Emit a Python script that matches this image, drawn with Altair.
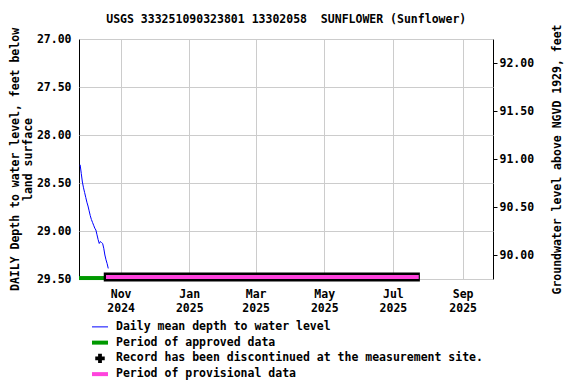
import altair as alt
import pandas as pd

# ---- data ----
dates = ["2024-09-26", "2024-09-27", "2024-09-28", "2024-09-29", "2024-09-30",
         "2024-10-01", "2024-10-02", "2024-10-03", "2024-10-04", "2024-10-05",
         "2024-10-06", "2024-10-07", "2024-10-08", "2024-10-09", "2024-10-10",
         "2024-10-11", "2024-10-12", "2024-10-13", "2024-10-14", "2024-10-15",
         "2024-10-16", "2024-10-17", "2024-10-18", "2024-10-19", "2024-10-20",
         "2024-10-21"]
depth = [28.31, 28.40, 28.49, 28.55, 28.60,
         28.65, 28.70, 28.74, 28.79, 28.84,
         28.88, 28.91, 28.94, 28.97, 28.99,
         29.04, 29.09, 29.13, 29.11, 29.12,
         29.13, 29.18, 29.25, 29.30, 29.34,
         29.39]

approved_period = ["2024-09-25", "2024-10-18"]
provisional_period = ["2024-10-19", "2025-07-24"]
provisional_frame = ["2024-10-17", "2025-07-25"]

x_domain = ["2024-09-25", "2025-09-28"]
x_ticks = ["2024-11-01", "2025-01-01", "2025-03-01", "2025-05-01", "2025-07-01", "2025-09-01"]
depth_domain = [27.0, 29.5]
depth_ticks = [27.0, 27.5, 28.0, 28.5, 29.0, 29.5]
elev_ticks = [90.0, 90.5, 91.0, 91.5, 92.0]
datum_offset = 119.25  # elevation = offset - depth
approved_level = 29.49
provisional_level = 29.48

legend_labels = ["Daily mean depth to water level",
                 "Period of approved data",
                 "Record has been discontinued at the measurement site.",
                 "Period of provisional data"]

title = "USGS 333251090323801 13302058\u00a0\u00a0SUNFLOWER (Sunflower)"
FONT = "DejaVu Sans Mono"


def dt(s):
    y, m, d = (int(v) for v in s.split("-"))
    return alt.DateTime(year=y, month=m, date=d, utc=True)


series = pd.DataFrame({"date": dates, "depth": depth})
approved = pd.DataFrame({"start": [approved_period[0]], "end": [approved_period[1]]})
prov = pd.DataFrame({"start": [provisional_period[0]], "end": [provisional_period[1]]})
prov_frame = pd.DataFrame({"start": [provisional_frame[0]], "end": [provisional_frame[1]]})

xscale = alt.Scale(type="utc", domain=[dt(x_domain[0]), dt(x_domain[1])])
yscale = alt.Scale(domain=depth_domain, reverse=True, nice=False, zero=False)

x_axis = alt.Axis(values=[dt(v) for v in x_ticks],
                  labelExpr="[utcFormat(datum.value, '%b'), utcFormat(datum.value, '%Y')]",
                  title=None, grid=True, gridColor="#cccccc", tickSize=0,
                  domain=False, labelPadding=9, labelFontWeight="bold",
                  labelFont=FONT, labelFontSize=11.5, labelColor="black", labelLineHeight=14)
y_axis = alt.Axis(values=depth_ticks, format=".2f", grid=True, gridColor="#cccccc",
                  tickSize=0, domain=False, labelPadding=8,
                  title=["DAILY Depth to water level, feet below", "land surface"],
                  titleFont=FONT, titleFontSize=11.5, titleFontWeight="bold",
                  titlePadding=3, titleLineHeight=13, titleColor="black",
                  labelFont=FONT, labelFontSize=11.5, labelFontWeight="bold", labelColor="black")

X = lambda f: alt.X(f, type="temporal", scale=xscale, axis=x_axis)

green = alt.Chart(approved).mark_rule(color="#009900", strokeWidth=4).encode(
    x=X("start"), x2="end", y=alt.datum(approved_level, scale=yscale, axis=y_axis))
black = alt.Chart(prov_frame).mark_rule(color="black", strokeWidth=9).encode(
    x=X("start"), x2="end", y=alt.datum(provisional_level))
pink = alt.Chart(prov).mark_rule(color="#ff44dd", strokeWidth=4).encode(
    x=X("start"), x2="end", y=alt.datum(provisional_level))
line = alt.Chart(series).mark_line(color="#0000ff", strokeWidth=1).encode(
    x=X("date"), y=alt.Y("depth:Q", scale=yscale, axis=y_axis))

right = alt.Chart(series).transform_calculate(
    elev=f"{datum_offset} - datum.depth").mark_line(opacity=0).encode(
    x=X("date"),
    y=alt.Y("elev:Q",
            scale=alt.Scale(domain=[datum_offset - depth_domain[1], datum_offset - depth_domain[0]],
                            nice=False, zero=False),
            axis=alt.Axis(orient="right", values=elev_ticks, format=".2f", grid=False,
                          tickSize=4, tickColor="black", domain=False, labelPadding=2,
                          title="Groundwater level above NGVD 1929, feet",
                          titleAngle=270, titleBaseline="bottom",
                          titleFont=FONT, titleFontSize=11.5, titleFontWeight="bold",
                          titlePadding=29, titleColor="black",
                          labelFont=FONT, labelFontSize=11.5, labelFontWeight="bold",
                          labelColor="black")))

main = alt.layer(alt.layer(green, black, pink, line), right).resolve_scale(
    y="independent").properties(width=414, height=240)

# ---- legend ----
leg = pd.DataFrame({"label": legend_labels, "order": [0, 1, 2, 3]})
ly = alt.Y("label:N", sort=legend_labels, axis=None,
           scale=alt.Scale(paddingInner=0, paddingOuter=0))
base = alt.Chart(leg)
leg_text = base.mark_text(align="left", baseline="middle", font=FONT, fontSize=11.5,
                          fontWeight="bold", color="black").encode(
    x=alt.value(37), y=ly, text="label:N")
leg_blue = base.transform_filter("datum.order == 0").mark_rule(
    color="#0000ff", strokeWidth=1).encode(x=alt.value(13), x2=alt.value(29), y=ly)
leg_green = base.transform_filter("datum.order == 1").mark_rule(
    color="#009900", strokeWidth=4).encode(x=alt.value(13), x2=alt.value(29), y=ly)
leg_cross = base.transform_filter("datum.order == 2").mark_point(
    shape="cross", filled=True, color="black", size=90, opacity=1).encode(
    x=alt.value(21), y=ly)
leg_pink = base.transform_filter("datum.order == 3").mark_rule(
    color="#ff44dd", strokeWidth=4).encode(x=alt.value(13), x2=alt.value(29), y=ly)
legend = alt.layer(leg_blue, leg_green, leg_cross, leg_pink, leg_text).properties(
    width=414, height=63, view=alt.ViewConfig(stroke=None))

chart = alt.vconcat(main, legend, spacing=5).properties(
    padding={"left": 0, "top": 5, "right": 0, "bottom": 0},
    title=alt.Title(title, font=FONT, fontSize=11.5, fontWeight="bold", anchor="middle",
                    offset=-2, color="black")
).configure_view(stroke="black", strokeWidth=1)

chart.save("out.html", embed_options={"renderer": "svg", "actions": False})
